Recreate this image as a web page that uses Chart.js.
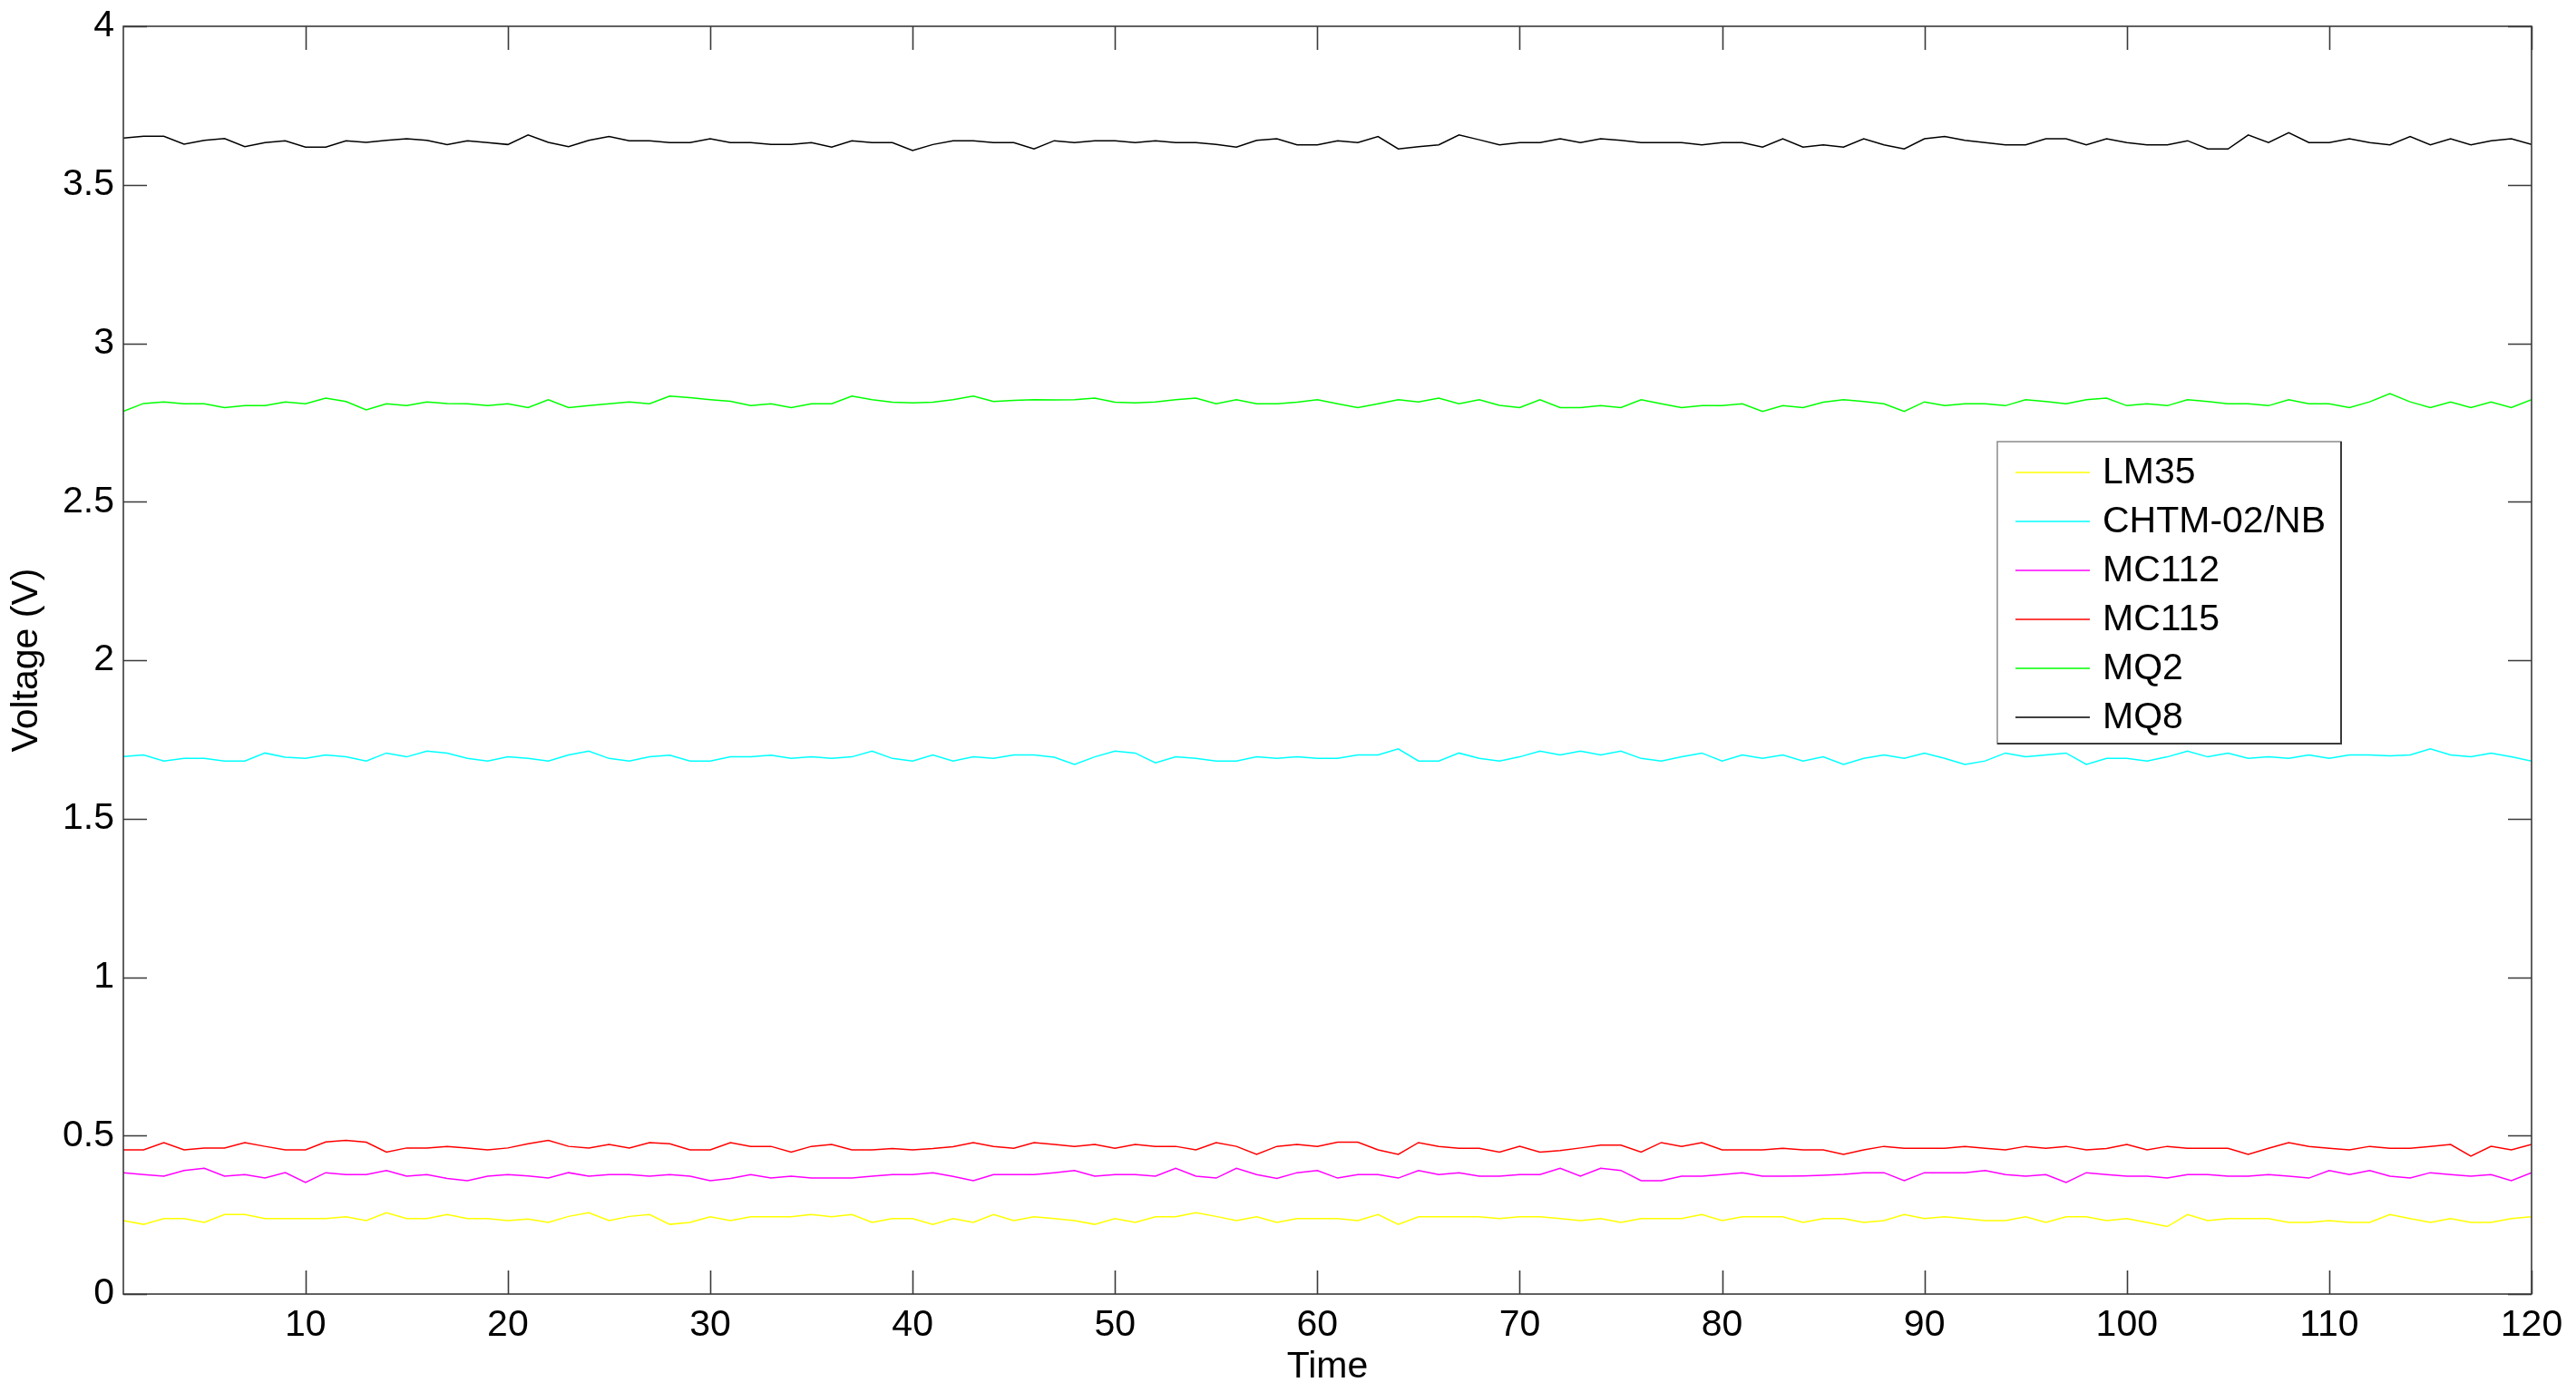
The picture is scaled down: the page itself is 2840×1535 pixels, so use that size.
<!DOCTYPE html>
<html>
<head>
<meta charset="utf-8">
<script src="https://cdn.jsdelivr.net/npm/chart.js@4.4.1/dist/chart.umd.min.js"></script>
<style>
  html, body { margin: 0; padding: 0; background: #ffffff; }
  #wrap { width: 2840px; height: 1535px; }
</style>
</head>
<body>
<div id="wrap"><canvas id="c" width="2840" height="1535"></canvas></div>
<script>
const time = [1,2,3,4,5,6,7,8,9,10,11,12,13,14,15,16,17,18,19,20,21,22,23,24,25,26,27,28,29,30,31,32,33,34,35,36,37,38,39,40,41,42,43,44,45,46,47,48,49,50,51,52,53,54,55,56,57,58,59,60,61,62,63,64,65,66,67,68,69,70,71,72,73,74,75,76,77,78,79,80,81,82,83,84,85,86,87,88,89,90,91,92,93,94,95,96,97,98,99,100,101,102,103,104,105,106,107,108,109,110,111,112,113,114,115,116,117,118,119,120];

const seriesNames = ["LM35", "CHTM-02/NB", "MC112", "MC115", "MQ2", "MQ8"];

const lm35 = [0.232,0.220,0.238,0.238,0.226,0.251,0.251,0.238,0.238,0.238,0.238,0.244,0.232,0.257,0.238,0.238,0.251,0.238,0.238,0.232,0.237,0.226,0.245,0.257,0.232,0.245,0.251,0.220,0.226,0.244,0.232,0.244,0.244,0.244,0.251,0.244,0.251,0.226,0.238,0.238,0.220,
 0.238,0.226,0.251,0.232,0.244,0.238,0.232,0.220,0.238,0.226,0.244,0.244,0.257,0.245,0.232,0.244,0.226,0.238,0.238,0.238,0.232,0.251,0.220,0.244,0.244,0.244,0.244,0.238,0.244,0.244,0.238,0.232,0.238,0.226,0.238,0.238,0.238,0.251,0.232,
 0.244,0.244,0.244,0.226,0.238,0.238,0.226,0.232,0.251,0.238,0.244,0.238,0.232,0.232,0.244,0.226,0.244,0.244,0.232,0.238,0.226,0.213,0.251,0.232,0.238,0.238,0.238,0.226,0.226,0.232,0.226,0.226,0.251,0.238,0.226,0.238,0.226,0.226,0.238,0.244];

const chtm = [1.696,1.701,1.682,1.690,1.690,1.682,1.682,1.707,1.694,1.690,1.701,1.695,1.682,1.707,1.695,1.713,1.707,1.690,1.682,1.695,1.690,1.682,1.701,1.713,1.690,1.682,1.695,1.700,1.682,1.682,1.695,1.695,1.700,1.690,1.695,1.690,1.695,1.713,1.690,1.682,1.701,
 1.682,1.695,1.690,1.701,1.701,1.694,1.671,1.695,1.713,1.707,1.676,1.695,1.690,1.682,1.682,1.695,1.690,1.695,1.690,1.690,1.701,1.701,1.720,1.682,1.682,1.707,1.690,1.682,1.695,1.713,1.701,1.713,1.701,1.713,1.690,1.682,1.695,1.707,1.682,
 1.701,1.690,1.701,1.682,1.695,1.671,1.690,1.701,1.690,1.707,1.690,1.671,1.682,1.707,1.695,1.701,1.707,1.671,1.690,1.690,1.682,1.695,1.713,1.695,1.707,1.690,1.695,1.690,1.701,1.690,1.701,1.701,1.698,1.701,1.720,1.701,1.695,1.707,1.695,1.682];

const mc112 = [0.383,0.377,0.372,0.390,0.397,0.372,0.377,0.366,0.383,0.352,0.383,0.377,0.377,0.390,0.372,0.377,0.365,0.358,0.372,0.377,0.373,0.366,0.383,0.372,0.377,0.377,0.372,0.377,0.372,0.358,0.365,0.377,0.366,0.372,0.366,0.366,0.366,0.372,0.377,0.377,0.383,
 0.371,0.358,0.377,0.377,0.377,0.383,0.390,0.372,0.377,0.377,0.372,0.397,0.372,0.366,0.397,0.377,0.365,0.383,0.390,0.366,0.377,0.377,0.366,0.390,0.377,0.383,0.372,0.372,0.377,0.377,0.397,0.372,0.397,0.390,0.358,0.358,0.372,0.372,0.377,
 0.383,0.372,0.372,0.373,0.375,0.378,0.383,0.383,0.358,0.383,0.383,0.383,0.390,0.377,0.372,0.377,0.352,0.383,0.377,0.372,0.372,0.366,0.377,0.377,0.372,0.372,0.377,0.372,0.366,0.390,0.377,0.390,0.372,0.366,0.383,0.377,0.372,0.377,0.358,0.383];

const mc115 = [0.455,0.455,0.478,0.455,0.461,0.461,0.478,0.466,0.455,0.455,0.480,0.485,0.479,0.448,0.461,0.461,0.466,0.461,0.455,0.461,0.474,0.485,0.466,0.461,0.472,0.461,0.478,0.474,0.455,0.455,0.478,0.466,0.466,0.448,0.466,0.472,0.455,0.455,0.459,0.455,0.459,
 0.465,0.478,0.466,0.460,0.478,0.472,0.466,0.472,0.460,0.472,0.466,0.466,0.455,0.478,0.466,0.441,0.466,0.472,0.466,0.479,0.479,0.455,0.441,0.478,0.466,0.460,0.460,0.448,0.466,0.448,0.453,0.461,0.470,0.470,0.448,0.478,0.466,0.478,0.455,
 0.455,0.455,0.460,0.455,0.455,0.441,0.455,0.466,0.460,0.460,0.460,0.466,0.460,0.455,0.466,0.460,0.466,0.455,0.459,0.472,0.455,0.466,0.460,0.460,0.460,0.441,0.460,0.478,0.466,0.460,0.455,0.466,0.460,0.460,0.466,0.472,0.435,0.466,0.455,0.472];

const mq2 = [2.785,2.810,2.815,2.809,2.809,2.797,2.803,2.803,2.815,2.809,2.827,2.816,2.790,2.809,2.803,2.815,2.810,2.809,2.803,2.809,2.797,2.822,2.797,2.803,2.809,2.815,2.809,2.833,2.828,2.822,2.817,2.803,2.809,2.797,2.809,2.809,2.833,2.822,2.814,2.812,2.814,
 2.822,2.833,2.816,2.820,2.822,2.821,2.822,2.827,2.814,2.812,2.815,2.822,2.827,2.809,2.822,2.809,2.809,2.814,2.822,2.809,2.797,2.809,2.822,2.815,2.827,2.809,2.822,2.804,2.797,2.822,2.797,2.797,2.803,2.797,2.822,2.809,2.797,2.803,2.803,
 2.809,2.785,2.803,2.797,2.814,2.822,2.816,2.809,2.785,2.815,2.803,2.809,2.809,2.803,2.822,2.816,2.809,2.822,2.827,2.803,2.809,2.803,2.822,2.816,2.809,2.809,2.803,2.822,2.809,2.809,2.797,2.815,2.841,2.815,2.797,2.815,2.797,2.815,2.797,2.822];

const mq8 = [3.647,3.653,3.653,3.628,3.640,3.646,3.620,3.633,3.639,3.619,3.619,3.639,3.634,3.640,3.645,3.640,3.627,3.639,3.633,3.627,3.657,3.634,3.620,3.640,3.652,3.639,3.639,3.633,3.633,3.645,3.633,3.633,3.627,3.627,3.633,3.619,3.639,3.633,3.633,3.608,3.627,
 3.639,3.639,3.633,3.633,3.613,3.639,3.633,3.639,3.639,3.633,3.639,3.633,3.633,3.627,3.619,3.640,3.645,3.626,3.626,3.639,3.633,3.652,3.613,3.620,3.626,3.657,3.642,3.626,3.633,3.633,3.645,3.633,3.645,3.640,3.633,3.633,3.633,3.626,3.633,
 3.633,3.619,3.645,3.619,3.626,3.619,3.645,3.626,3.613,3.645,3.652,3.640,3.633,3.626,3.626,3.645,3.645,3.626,3.645,3.633,3.626,3.626,3.639,3.613,3.613,3.657,3.633,3.664,3.633,3.633,3.645,3.633,3.626,3.652,3.626,3.645,3.626,3.639,3.645,3.627];

const xTickValues = [10,20,30,40,50,60,70,80,90,100,110,120];
const yTickValues = [0,0.5,1,1.5,2,2.5,3,3.5,4];
const yTickLabels = ["0","0.5","1","1.5","2","2.5","3","3.5","4"];

const seriesValues = [lm35, chtm, mc112, mc115, mq2, mq8];
const seriesColors = ["#ffff00", "#00ffff", "#ff00ff", "#ff0000", "#00ff00", "#000000"];

const FONT = "'Liberation Sans', Arial, Helvetica, sans-serif";
const TICK_LEN = 26;

const framePlugin = {
  id: 'frameAndLegend',
  afterDatasetsDraw(chart) {
    const ctx = chart.ctx;
    const a = chart.chartArea;
    const xs = chart.scales.x, ys = chart.scales.y;
    ctx.save();
    ctx.strokeStyle = '#3a3a3a';
    ctx.lineWidth = 1.6;
    ctx.beginPath();
    xs.ticks.forEach(t => {
      const px = Math.round(xs.getPixelForValue(t.value)) + 0.5;
      ctx.moveTo(px, a.bottom); ctx.lineTo(px, a.bottom - TICK_LEN);
      ctx.moveTo(px, a.top); ctx.lineTo(px, a.top + TICK_LEN);
    });
    ys.ticks.forEach(t => {
      const py = Math.round(ys.getPixelForValue(t.value)) + 0.5;
      ctx.moveTo(a.left, py); ctx.lineTo(a.left + TICK_LEN, py);
      ctx.moveTo(a.right, py); ctx.lineTo(a.right - TICK_LEN, py);
    });
    ctx.stroke();
    ctx.strokeRect(a.left, a.top, a.right - a.left, a.bottom - a.top);

    // legend box
    const bx = a.left + 2066, by = a.top + 458, bw = 379, bh = 333;
    ctx.fillStyle = '#ffffff';
    ctx.fillRect(bx, by, bw, bh);
    ctx.strokeStyle = '#8a8a8a';
    ctx.lineWidth = 1.5;
    ctx.strokeRect(bx, by, bw, bh);
    ctx.strokeStyle = '#3a3a3a';
    ctx.lineWidth = 2;
    ctx.beginPath();
    ctx.moveTo(bx, by + bh); ctx.lineTo(bx + bw, by + bh); ctx.lineTo(bx + bw, by);
    ctx.stroke();
    ctx.font = '41px ' + FONT;
    ctx.textBaseline = 'middle';
    ctx.textAlign = 'left';
    chart.data.datasets.forEach((ds, i) => {
      const cy = by + 34 + i * 54;
      ctx.strokeStyle = ds.borderColor;
      ctx.lineWidth = 1.5;
      ctx.beginPath();
      ctx.moveTo(bx + 20, cy); ctx.lineTo(bx + 102, cy);
      ctx.stroke();
      ctx.fillStyle = '#000000';
      ctx.fillText(ds.label, bx + 116, cy + 1);
    });
    ctx.restore();
  }
};

new Chart(document.getElementById('c'), {
  type: 'line',
  data: {
    labels: time,
    datasets: seriesNames.map((name, i) => ({
      label: name,
      data: seriesValues[i],
      borderColor: seriesColors[i],
      backgroundColor: seriesColors[i],
      borderWidth: 1.5,
      pointRadius: 0,
      tension: 0,
      fill: false
    }))
  },
  options: {
    responsive: false,
    animation: false,
    devicePixelRatio: 1,
    layout: { padding: { left: 0, right: 49, top: 29, bottom: 0 } },
    plugins: { legend: { display: false }, tooltip: { enabled: false } },
    scales: {
      x: {
        type: 'linear',
        min: 1, max: 120,
        grid: { display: false, drawTicks: false },
        border: { display: false },
        afterBuildTicks: (axis) => { axis.ticks = xTickValues.map(v => ({ value: v })); },
        afterFit: (scale) => { scale.height = 108; scale.paddingLeft = 0; scale.paddingRight = 0; },
        ticks: {
          autoSkip: false, maxRotation: 0, padding: 10,
          color: '#000000',
          font: { family: FONT, size: 41 },
          callback: (v) => String(v)
        },
        title: {
          display: true, text: 'Time', color: '#000000',
          font: { family: FONT, size: 41 },
          padding: { top: 0, bottom: 3 }
        }
      },
      y: {
        type: 'linear',
        min: 0, max: 4,
        grid: { display: false, drawTicks: false },
        border: { display: false },
        afterBuildTicks: (axis) => { axis.ticks = yTickValues.map(v => ({ value: v })); },
        afterFit: (scale) => { scale.width = 136; scale.paddingTop = 0; scale.paddingBottom = 0; },
        ticks: {
          autoSkip: false, padding: 10,
          color: '#000000',
          font: { family: FONT, size: 41 },
          callback: (v) => { const k = yTickValues.indexOf(v); return k >= 0 ? yTickLabels[k] : ''; }
        },
        title: {
          display: true, text: 'Voltage (V)', color: '#000000',
          font: { family: FONT, size: 41 },
          padding: { top: 5, bottom: 0 }
        }
      }
    }
  },
  plugins: [framePlugin]
});
</script>
</body>
</html>
